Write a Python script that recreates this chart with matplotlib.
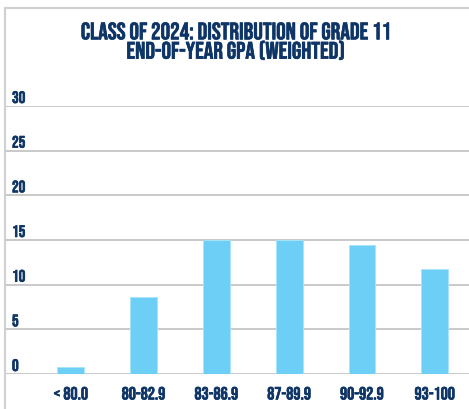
import matplotlib
matplotlib.use("Agg")
import matplotlib.pyplot as plt
from matplotlib.lines import Line2D
from matplotlib import transforms
import matplotlib.patheffects as pe

categories = ["< 80.0", "80-82.9", "83-86.9", "87-89.9", "90-92.9", "93-100"]
values = [0.8, 8.6, 15.0, 15.0, 14.4, 11.7]
yticks = [0, 5, 10, 15, 20, 25, 30]
title = "CLASS OF 2024: DISTRIBUTION OF GRADE 11\nEND-OF-YEAR GPA (WEIGHTED)"

navy = "#0e3566"
bar_color = "#6dcff6"
grid_color = "#c9c9c9"
font = ["Bebas Neue", "DejaVu Sans"]
bold = [pe.withStroke(linewidth=0.45, foreground=navy)]

fig = plt.figure(figsize=(4.69, 4.09), dpi=100)
ax = fig.add_axes([6/469, 1-374/409, 1-6/469, (374-106)/409])

x = list(range(len(categories)))
ax.bar(x, values, width=0.37, color=bar_color, edgecolor="#a9e4fb", linewidth=0.6, zorder=2)
ax.set_xlim(-0.89, 5.47)
ax.set_ylim(0, 30)
off = transforms.offset_copy(ax.transData, fig=fig, x=0, y=3, units="dots")
blend = transforms.blended_transform_factory(ax.transAxes, off)
for t in yticks:
    ax.axhline(t, color=grid_color, linewidth=1.4, zorder=1)
    ax.text(6/463, t, str(t), transform=blend,
            ha="left", va="baseline", fontsize=12, color=navy, family=font,
            clip_on=False, path_effects=bold)
ax.set_yticks([])
ax.set_xticks(x)
ax.set_xticklabels(categories, fontsize=12.8, color=navy, family=font, path_effects=bold)
ax.tick_params(axis="x", length=0, pad=9)
for s in ax.spines.values():
    s.set_visible(False)

fig.text(236/469, 1-41/409, title, ha="center", va="center", fontsize=17.2,
         color=navy, family=font, linespacing=1.05, path_effects=bold)

# outer frame lines
fig.add_artist(Line2D([5/469, 5/469], [0, 1-8/409], transform=fig.transFigure, color="#d0d0d0", linewidth=1.5))
fig.add_artist(Line2D([5/469, 1], [1-8/409, 1-8/409], transform=fig.transFigure, color="#d0d0d0", linewidth=1.5))

fig.savefig("out.png", dpi=100)
